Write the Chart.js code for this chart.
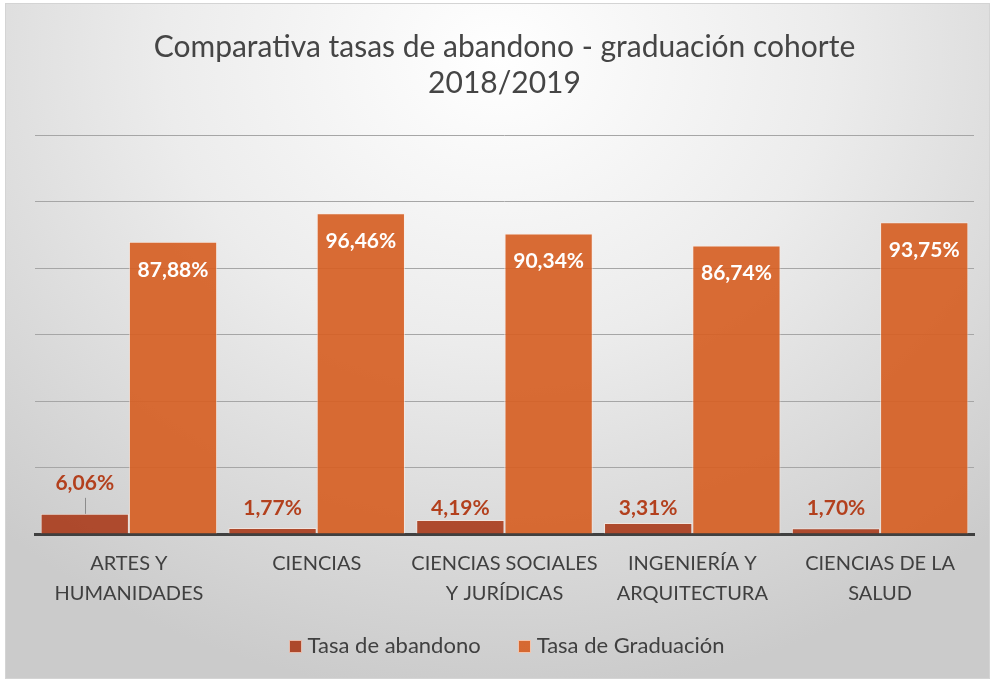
<!DOCTYPE html>
<html>
<head>
<meta charset="utf-8">
<script src="https://cdn.jsdelivr.net/npm/chart.js@4.4.1/dist/chart.umd.min.js"></script>
<style>
  html, body { margin: 0; padding: 0; background: #ffffff; }
  #frame {
    position: absolute; left: 5px; top: 3px; width: 983px; height: 674px;
    border: 1px solid #d4d4d4;
    background: radial-gradient(ellipse 75% 95% at 50% 8%, #ffffff 0%, #ececec 45%, #cbcbcb 100%);
  }
  #wrap { position: absolute; left: 0; top: 0; width: 992px; height: 682px; }
</style>
</head>
<body>
<div id="frame"></div>
<div id="wrap"><canvas id="c" width="992" height="682"></canvas></div>
<script>
const categories = [
  ["ARTES Y", "HUMANIDADES"],
  ["CIENCIAS"],
  ["CIENCIAS SOCIALES", "Y JURÍDICAS"],
  ["INGENIERÍA Y", "ARQUITECTURA"],
  ["CIENCIAS DE LA", "SALUD"]
];
const tasaAbandono = [6.06, 1.77, 4.19, 3.31, 1.70];
const tasaGraduacion = [87.88, 96.46, 90.34, 86.74, 93.75];
const seriesNames = ["Tasa de abandono", "Tasa de Graduación"];

const FONT = "Lato, 'Open Sans', sans-serif";
const fmt = v => v.toFixed(2).replace('.', ',') + '%';

const labelPlugin = {
  id: 'barLabels',
  afterDatasetsDraw(chart) {
    const ctx = chart.ctx;
    const y = chart.scales.y;
    ctx.save();
    ctx.font = "bold 21px " + FONT;
    ctx.textAlign = 'center';
    ctx.textBaseline = 'middle';
    const m0 = chart.getDatasetMeta(0);
    const lift = [19, 0, 0, 0, 0];
    const clampY = y.getPixelForValue(4.19);
    m0.data.forEach((bar, i) => {
      const base = Math.min(bar.y, clampY) - 12;
      const ly = base - lift[i];
      ctx.fillStyle = '#b3401d';
      ctx.fillText(fmt(tasaAbandono[i]), bar.x, ly);
      if (lift[i] > 0) {
        ctx.strokeStyle = '#8c8c8c';
        ctx.lineWidth = 1;
        ctx.beginPath();
        ctx.moveTo(Math.round(bar.x) + 0.5, ly + 15);
        ctx.lineTo(Math.round(bar.x) + 0.5, bar.y);
        ctx.stroke();
      }
    });
    const m1 = chart.getDatasetMeta(1);
    m1.data.forEach((bar, i) => {
      ctx.fillStyle = '#ffffff';
      ctx.fillText(fmt(tasaGraduacion[i]), bar.x, bar.y + 28);
    });
    ctx.restore();
  }
};

const legendPlugin = {
  id: 'customLegend',
  afterDraw(chart) {
    const ctx = chart.ctx;
    const ca = chart.chartArea;
    const box = 13, gapBT = 6, gapItem = 37, cy = 646;
    ctx.save();
    ctx.font = "22px " + FONT;
    ctx.textBaseline = 'middle';
    ctx.textAlign = 'left';
    const items = chart.data.datasets.map(ds => ({
      text: ds.label, color: ds.backgroundColor, w: ctx.measureText(ds.label).width
    }));
    let total = 0;
    items.forEach((it, i) => { total += box + gapBT + it.w + (i ? gapItem : 0); });
    let x = (ca.left + ca.right) / 2 + 2 - total / 2;
    items.forEach(it => {
      ctx.fillStyle = it.color;
      ctx.fillRect(Math.round(x), Math.round(cy - box / 2), box, box);
      ctx.strokeStyle = 'rgba(255,235,225,0.7)';
      ctx.lineWidth = 1;
      ctx.strokeRect(Math.round(x) + 0.5, Math.round(cy - box / 2) + 0.5, box - 1, box - 1);
      ctx.fillStyle = '#404040';
      ctx.fillText(it.text, x + box + gapBT, cy);
      x += box + gapBT + it.w + gapItem;
    });
    ctx.restore();
  }
};

new Chart(document.getElementById('c'), {
  type: 'bar',
  data: {
    labels: categories,
    datasets: [
      {
        label: seriesNames[0],
        data: tasaAbandono,
        backgroundColor: 'rgba(170,62,30,0.92)',
        borderColor: 'rgba(255,235,225,0.6)',
        borderWidth: 1,
        categoryPercentage: 0.94,
        barPercentage: 1.0
      },
      {
        label: seriesNames[1],
        data: tasaGraduacion,
        backgroundColor: 'rgba(214,96,36,0.92)',
        borderColor: 'rgba(255,235,225,0.6)',
        borderWidth: 1,
        categoryPercentage: 0.94,
        barPercentage: 1.0
      }
    ]
  },
  options: {
    responsive: false,
    animation: false,
    layout: { padding: { left: 35, right: 18, top: 29, bottom: 58 } },
    plugins: {
      title: {
        display: true,
        text: ["Comparativa tasas de abandono - graduación cohorte", "2018/2019"],
        font: { family: FONT, size: 30, weight: 'normal', lineHeight: 36 / 30 },
        color: '#454545',
        padding: { top: 0, bottom: 34 }
      },
      legend: { display: false },
      tooltip: { enabled: false }
    },
    scales: {
      x: {
        grid: { display: false, drawTicks: false },
        border: { display: true, color: '#404040', width: 3 },
        ticks: {
          font: { family: FONT, size: 20, lineHeight: 1.5 },
          color: '#404040',
          padding: 15,
          maxRotation: 0,
          autoSkip: false
        }
      },
      y: {
        min: 0,
        max: 120,
        ticks: { display: false, stepSize: 20 },
        border: { display: false },
        grid: {
          drawTicks: false,
          color: ctx => ctx.tick.value === 0 ? 'rgba(0,0,0,0)' : '#a6a6a6',
          lineWidth: 1
        }
      }
    }
  },
  plugins: [labelPlugin, legendPlugin]
});
</script>
</body>
</html>
